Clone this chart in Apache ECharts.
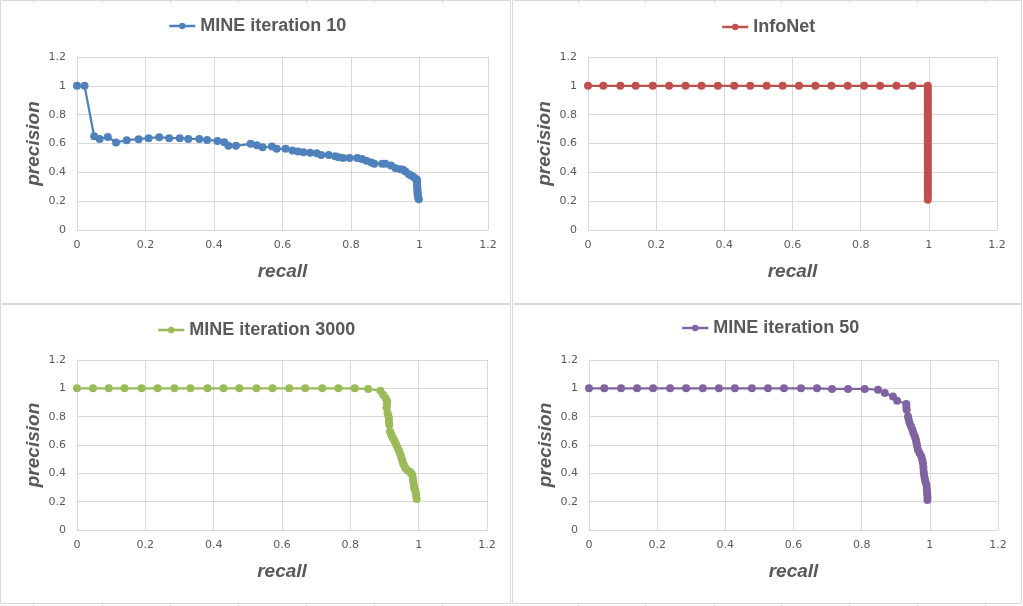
<!DOCTYPE html>
<html lang="en">
  <head>
    <meta charset="UTF-8" />
    <title>precision / recall</title>
    <script src="https://cdn.jsdelivr.net/npm/echarts@6/dist/echarts.min.js"></script>
  </head>
  <body style="margin: 0; background: #fff">
    <div id="container" style="width: 1023px; height: 606px"></div>
    <script>
      // values
      const axisTicks = [0, 0.2, 0.4, 0.6, 0.8, 1, 1.2];

      const recall10 = [0, 0.022, 0.05, 0.066, 0.09, 0.114, 0.145, 0.18, 0.209, 0.24, 0.269, 0.3, 0.325, 0.357, 0.38, 0.41, 0.43, 0.442, 0.464, 0.507, 0.525, 0.542, 0.569, 0.583, 0.609, 0.629, 0.645, 0.661, 0.681, 0.7, 0.713, 0.735, 0.754, 0.764, 0.777, 0.796, 0.818, 0.832, 0.845, 0.859, 0.868, 0.891, 0.9, 0.917, 0.93, 0.944, 0.952, 0.959, 0.969, 0.976, 0.982, 0.988, 0.993, 0.993, 0.993, 0.993, 0.994, 0.994, 0.994, 0.995, 0.995, 0.996, 0.998];
      const precision10 = [1, 1, 0.65, 0.632, 0.645, 0.607, 0.623, 0.63, 0.637, 0.644, 0.637, 0.637, 0.632, 0.632, 0.625, 0.618, 0.609, 0.584, 0.584, 0.598, 0.588, 0.574, 0.579, 0.563, 0.563, 0.551, 0.544, 0.54, 0.535, 0.533, 0.521, 0.521, 0.512, 0.505, 0.5, 0.5, 0.5, 0.493, 0.481, 0.468, 0.459, 0.459, 0.459, 0.447, 0.428, 0.421, 0.418, 0.405, 0.387, 0.378, 0.37, 0.358, 0.347, 0.335, 0.32, 0.307, 0.29, 0.276, 0.262, 0.248, 0.235, 0.224, 0.213];

      const recallInfo = [0, 0.045, 0.095, 0.14, 0.19, 0.238, 0.286, 0.333, 0.381, 0.429, 0.476, 0.524, 0.571, 0.619, 0.667, 0.714, 0.762, 0.81, 0.857, 0.905, 0.952, 0.997, 0.997, 0.997, 0.997, 0.997, 0.997, 0.997, 0.997, 0.997, 0.997, 0.997, 0.997, 0.997, 0.997, 0.997, 0.997, 0.997, 0.997, 0.997, 0.997, 0.997, 0.997, 0.997, 0.997, 0.997, 0.997, 0.997, 0.997, 0.997, 0.997, 0.997, 0.997, 0.997, 0.997, 0.997, 0.997, 0.997, 0.997, 0.997, 0.997, 0.997, 0.997, 0.997, 0.997, 0.997, 0.997];
      const precisionInfo = [1, 1, 1, 1, 1, 1, 1, 1, 1, 1, 1, 1, 1, 1, 1, 1, 1, 1, 1, 1, 1, 1, 0.98, 0.96, 0.945, 0.93, 0.91, 0.895, 0.88, 0.86, 0.84, 0.825, 0.81, 0.79, 0.775, 0.76, 0.74, 0.72, 0.705, 0.69, 0.67, 0.65, 0.635, 0.62, 0.6, 0.58, 0.565, 0.55, 0.53, 0.51, 0.495, 0.48, 0.46, 0.44, 0.425, 0.41, 0.39, 0.37, 0.355, 0.34, 0.32, 0.3, 0.285, 0.27, 0.25, 0.235, 0.21];

      const recall3000 = [0, 0.047, 0.093, 0.139, 0.189, 0.236, 0.285, 0.332, 0.382, 0.429, 0.475, 0.525, 0.572, 0.621, 0.668, 0.718, 0.765, 0.813, 0.852, 0.888, 0.896, 0.903, 0.908, 0.907, 0.906, 0.909, 0.911, 0.913, 0.913, 0.914, 0.916, 0.919, 0.922, 0.926, 0.93, 0.934, 0.938, 0.942, 0.945, 0.948, 0.95, 0.952, 0.954, 0.958, 0.961, 0.968, 0.974, 0.978, 0.981, 0.983, 0.984, 0.986, 0.987, 0.99, 0.992, 0.993, 0.994];
      const precision3000 = [1, 1, 1, 1, 1, 1, 1, 1, 1, 1, 1, 1, 1, 1, 1, 1, 1, 1, 0.995, 0.983, 0.955, 0.931, 0.907, 0.884, 0.861, 0.825, 0.808, 0.79, 0.766, 0.743, 0.695, 0.678, 0.66, 0.642, 0.624, 0.603, 0.582, 0.562, 0.542, 0.524, 0.507, 0.49, 0.472, 0.454, 0.436, 0.42, 0.412, 0.4, 0.389, 0.365, 0.342, 0.318, 0.295, 0.278, 0.26, 0.24, 0.219];

      const recall50 = [0, 0.045, 0.094, 0.141, 0.188, 0.238, 0.285, 0.334, 0.381, 0.428, 0.478, 0.525, 0.572, 0.622, 0.669, 0.713, 0.76, 0.809, 0.848, 0.868, 0.892, 0.904, 0.931, 0.931, 0.932, 0.936, 0.938, 0.941, 0.945, 0.949, 0.952, 0.956, 0.959, 0.961, 0.963, 0.965, 0.97, 0.975, 0.978, 0.98, 0.981, 0.982, 0.983, 0.985, 0.987, 0.99, 0.991, 0.992, 0.992, 0.993, 0.993];
      const precision50 = [1, 1, 1, 1, 1, 1, 1, 1, 1, 1, 1, 1, 1, 1, 1, 0.996, 0.996, 0.996, 0.99, 0.967, 0.943, 0.912, 0.889, 0.869, 0.849, 0.801, 0.778, 0.754, 0.73, 0.707, 0.683, 0.66, 0.637, 0.613, 0.59, 0.566, 0.542, 0.518, 0.495, 0.472, 0.442, 0.412, 0.389, 0.366, 0.342, 0.318, 0.29, 0.275, 0.26, 0.236, 0.212];

      const panels = [
        { name: "MINE iteration 10", color: "#4F81BD", x: recall10, y: precision10,
          grid: { left: 77, right: 535, top: 57, bottom: 376 }, legend: { left: 168, top: 16 } },
        { name: "InfoNet", color: "#C0504D", x: recallInfo, y: precisionInfo,
          grid: { left: 588, right: 26, top: 57, bottom: 376 }, legend: { left: 721, top: 17 } },
        { name: "MINE iteration 3000", color: "#9BBB59", x: recall3000, y: precision3000,
          grid: { left: 77, right: 536, top: 360, bottom: 76 }, legend: { left: 157, top: 320 } },
        { name: "MINE iteration 50", color: "#8064A2", x: recall50, y: precision50,
          grid: { left: 589, right: 25, top: 360, bottom: 76 }, legend: { left: 681, top: 318 } }
      ];

      const gridColor = "#D9D9D9";
      const textColor = "#595959";

      function makeAxis(i, isX) {
        return {
          type: "value",
          gridIndex: i,
          min: 0,
          max: 1.2,
          interval: 0.2,
          name: isX ? "recall" : "precision",
          nameLocation: "middle",
          nameGap: isX ? 32 : 34,
          nameTextStyle: {
            fontFamily: "Liberation Sans",
            fontSize: 19,
            fontWeight: "bold",
            fontStyle: "italic",
            color: textColor
          },
          axisLine: { show: true, lineStyle: { color: gridColor, width: 1 } },
          axisTick: { show: false },
          splitLine: { show: true, lineStyle: { color: gridColor, width: 1 } },
          axisLabel: {
            margin: isX ? 10 : 11,
            fontFamily: "DejaVu Sans",
            fontSize: 11,
            color: textColor,
            formatter: v => axisTicks.includes(+v.toFixed(1)) ? String(+v.toFixed(1)) : ""
          }
        };
      }

      // panel frames and the sheet's cell lines around them
      const frames = [
        [0.5, 0.5, 510, 303], [512.5, 0.5, 509, 303],
        [0.5, 304.5, 510, 299], [512.5, 304.5, 509, 299]
      ].map(r => ({
        type: "rect",
        shape: { x: r[0], y: r[1], width: r[2], height: r[3] },
        style: { fill: null, stroke: gridColor, lineWidth: 1 },
        silent: true
      }));
      const cellCols = [33, 102, 170, 238, 306, 374, 442, 578, 645, 714, 781, 849, 917, 985];
      const cellLines = [];
      cellCols.forEach(cx => {
        cellLines.push({ type: "line", shape: { x1: cx + 0.5, y1: 0, x2: cx + 0.5, y2: 3 }, style: { stroke: gridColor } });
        cellLines.push({ type: "line", shape: { x1: cx + 0.5, y1: 603, x2: cx + 0.5, y2: 606 }, style: { stroke: gridColor } });
      });

      const option = {
        animation: false,
        backgroundColor: "#fff",
        graphic: frames.concat(cellLines),
        grid: panels.map(p => p.grid),
        xAxis: panels.map((p, i) => makeAxis(i, true)),
        yAxis: panels.map((p, i) => makeAxis(i, false)),
        legend: panels.map(p => ({
          data: [p.name],
          left: p.legend.left,
          top: p.legend.top + 1,
          padding: 0,
          itemWidth: 26,
          itemHeight: 8,
          itemGap: 4,
          lineStyle: { width: 2.5 },
          textStyle: {
            fontFamily: "Liberation Sans",
            fontSize: 18,
            fontWeight: "bold",
            color: textColor
          }
        })),
        series: panels.map((p, i) => ({
          name: p.name,
          type: "line",
          xAxisIndex: i,
          yAxisIndex: i,
          data: p.x.map((v, k) => [v, p.y[k]]),
          symbol: "circle",
          symbolSize: 8,
          showAllSymbol: true,
          color: p.color,
          lineStyle: { color: p.color, width: 2.25 },
          itemStyle: { color: p.color }
        }))
      };

      const myChart = echarts.init(document.getElementById("container"));
      myChart.setOption(option);
    </script>
  </body>
</html>
